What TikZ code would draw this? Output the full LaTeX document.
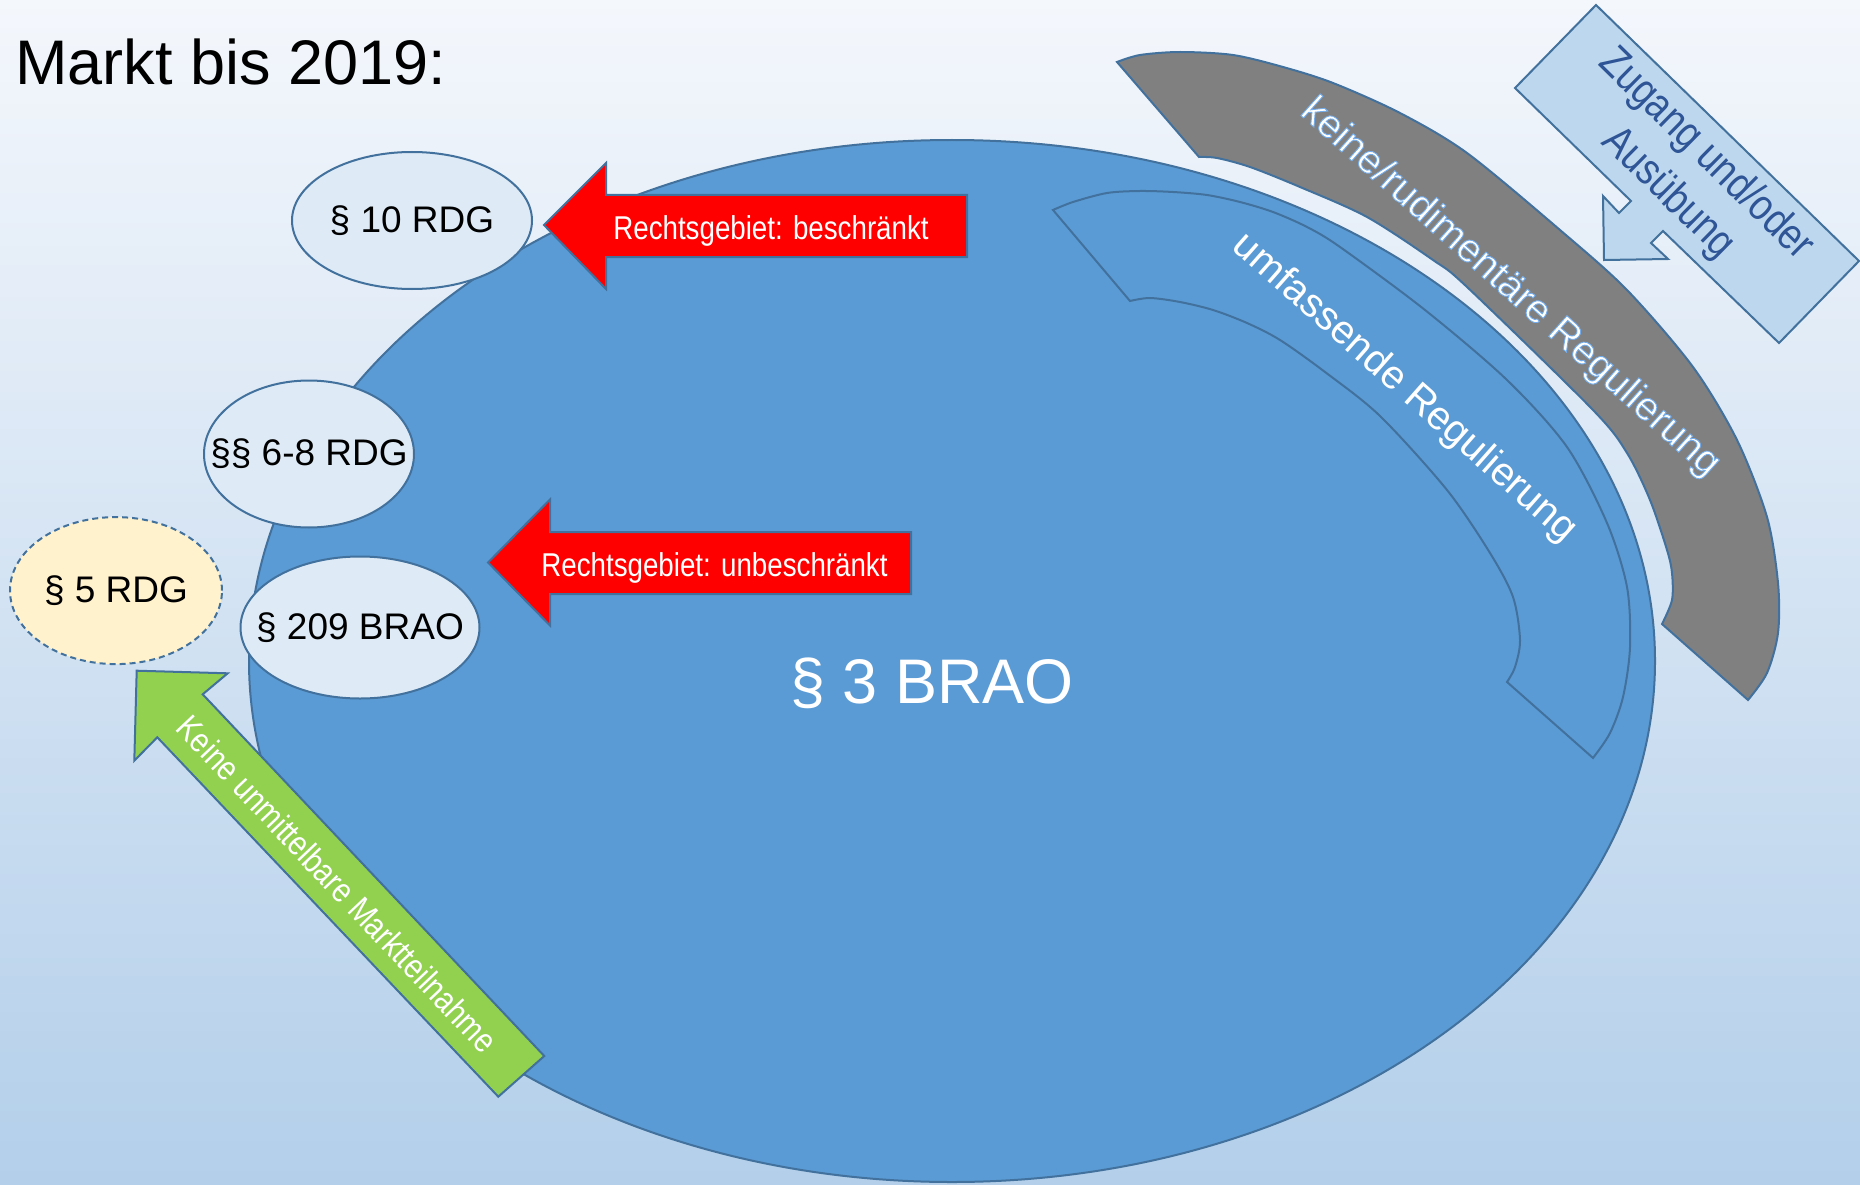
\documentclass[tikz,border=0pt]{standalone}
\usepackage{fontspec}
\setmainfont{Liberation Sans}
\newfontfamily\narrowfont[FakeStretch=0.84]{Liberation Sans}
\newfontfamily\glowfont[FakeBold=2.2]{Liberation Sans}
\usetikzlibrary{shapes.geometric}
\definecolor{bgtop}{HTML}{F4F7FC}
\definecolor{bgbot}{HTML}{B3CFEA}
\definecolor{mainblue}{HTML}{5B9BD5}
\definecolor{edgeblue}{HTML}{41719C}
\definecolor{lightell}{HTML}{DEEBF7}
\definecolor{cream}{HTML}{FFF2CC}
\definecolor{greenarrow}{HTML}{92D050}
\definecolor{grayband}{HTML}{808080}
\definecolor{zugangfill}{HTML}{BDD7EE}
\definecolor{zugangtext}{HTML}{2F5597}
\tikzset{
  edgeline/.style={draw=edgeblue, line width=2pt},
  smallell/.style={ellipse, edgeline, fill=lightell, inner sep=0pt},
  elltext/.style={font=\fontsize{37}{40}\selectfont, text=black, inner sep=0pt},
  redarrow/.style={edgeline, fill=red},
  redtext/.style={font=\narrowfont\fontsize{33}{38}\selectfont, text=white, inner sep=0pt, anchor=base},
  bandtext/.style={font=\fontsize{40}{48}\selectfont, text=white, inner sep=0pt},
}
\begin{document}
\begin{tikzpicture}[x=1pt, y=-1pt]
\useasboundingbox (0,0) rectangle (1860,1185);
\fill[top color=bgtop, bottom color=bgbot] (0,0) rectangle (1860,1185);

% title
\node[anchor=base west, inner sep=0pt, font=\fontsize{63}{70}\selectfont] (title) at (15,85) {Markt bis 2019:};

% main ellipse
\node[ellipse, edgeline, fill=mainblue, minimum width=1406pt, minimum height=1042pt, inner sep=0pt] (markt) at (952,661) {};

% inner blue band
\draw[edgeline, fill=mainblue] plot[smooth, tension=0.5] coordinates {(1053,210) (1073,202) (1107,193) (1140,191) (1173,192) (1207,195) (1240,202) (1273,212) (1307,227) (1340,247) (1425,310) (1507,380) (1567,447) (1607,523) (1627,587) (1630,647) (1623,697) (1610,733) (1593,758)}
  -- plot[smooth, tension=0.5] coordinates {(1507,682) (1515,667) (1520,640) (1513,597) (1490,553) (1447,490) (1380,416) (1325,372) (1280,340) (1247,323) (1213,310) (1180,302) (1150,298) (1130,301)} -- cycle;

% gray band
\draw[edgeline, fill=grayband] plot[smooth, tension=0.5] coordinates {(1117,62) (1140,55) (1180,52) (1233,55) (1283,67) (1333,83) (1400,113) (1467,153) (1560,230) (1627,290) (1693,367) (1737,440) (1767,517) (1778,583) (1778,633) (1767,673) (1748,700)}
  -- plot[smooth, tension=0.5] coordinates {(1662,624) (1672,600) (1672,573) (1667,550) (1650,500) (1627,453) (1593,410) (1467,287) (1433,260) (1367,217) (1300,187) (1250,167) (1217,158) (1199,157)} -- cycle;

% Zugang callout
\draw[edgeline, fill=zugangfill] (1596,5) -- (1859,261) -- (1779,343) -- (1663,231) -- (1651,243) -- (1668,259) -- (1604,260) -- (1603,196) -- (1619,213) -- (1631,201) -- (1515,88) -- cycle;
\node[rotate=-44.5, align=center, text=zugangtext, inner sep=0pt, font=\narrowfont\fontsize{44}{54}\selectfont] (zugang) at (1687,174) {Zugang und/oder\\Ausübung};

% small ellipses
\node[smallell, minimum width=240pt, minimum height=137pt] (rdg10) at (412,220.5) {};
\node[elltext] (t10) at (rdg10) {§ 10 RDG};
\node[smallell, minimum width=210pt, minimum height=147pt] (rdg68) at (309,454) {};
\node[elltext] (t68) at (rdg68) {§§ 6-8 RDG};
\node[smallell, minimum width=239pt, minimum height=142pt] (brao209) at (360,627.5) {};
\node[elltext] (t209) at (brao209) {§ 209 BRAO};
\node[smallell, fill=cream, dash pattern=on 6pt off 4pt, minimum width=212pt, minimum height=147pt] (rdg5) at (116,590.6) {};
\node[elltext] (t5) at (rdg5) {§ 5 RDG};

% red arrows
\draw[redarrow] (544,225) -- (606,163) -- (606,195) -- (967,195) -- (967,257) -- (606,257) -- (606,289) -- cycle;
\node[redtext] (rb) at (771,239) {Rechtsgebiet: beschränkt};
\draw[redarrow] (488,562.5) -- (550,499.5) -- (550,532) -- (911,532) -- (911,594) -- (550,594) -- (550,625.5) -- cycle;
\node[redtext] (ru) at (714.5,576) {Rechtsgebiet: unbeschränkt};

% green arrow
\draw[edgeline, fill=greenarrow] (136.7,670.7) -- (227.7,673.3) -- (202.7,694.3) -- (544.3,1056) -- (498.3,1096.7) -- (157.3,737.3) -- (134.3,760.7) -- cycle;
\node[rotate=-46.6, text=white, inner sep=0pt, font=\narrowfont\fontsize{34.5}{40}\selectfont] (keine) at (337.5,884) {Keine unmittelbare Marktteilnahme};

% main label
\node[anchor=base, text=white, inner sep=0pt, font=\fontsize{63}{70}\selectfont] (brao3) at (932,703) {§ 3 BRAO};

% band texts
\node[bandtext, rotate=-41.7] (keinereg) at (1510,288) {\glowfont\special{pdf:bcolor [1 1 1] [0.45 0.68 0.93]}keine/rudimentäre Regulierung\special{pdf:ecolor}};
\node[bandtext, rotate=-41.4] (umfass) at (1404,388) {umfassende Regulierung};
\end{tikzpicture}
\end{document}
